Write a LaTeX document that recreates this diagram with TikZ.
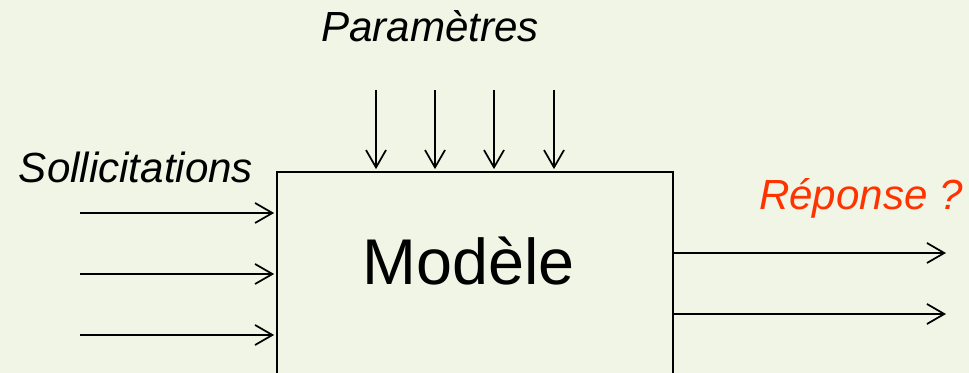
\documentclass[tikz,border=0pt]{standalone}
\usepackage{fontspec}
\setmainfont{Liberation Sans}
\usetikzlibrary{arrows.meta}
\definecolor{fond}{RGB}{241,245,230}
\definecolor{rouge}{RGB}{255,51,0}
\tikzset{
	fleche/.style={-{Straight Barb[length=13pt,width=15pt,line width=1.3pt]},line width=1.3pt,shorten >=1.5pt},
	etiquette/.style={anchor=base,inner sep=0pt,font=\fontsize{31.6}{38}\selectfont\itshape}
}
\begin{document}
\begin{tikzpicture}[x=0.75pt,y=-0.75pt]
			\fill[fond] (0,0) rectangle (969,373);
			\useasboundingbox (0,0) rectangle (969,373);
			
			\node (modele) [draw,line width=1.3pt,minimum width=297pt,minimum height=201pt,inner sep=0pt] at (475,306) {};
			\node (titre) [anchor=base,inner sep=0pt,font=\fontsize{48.5}{58}\selectfont] at (468.5,285) {Modèle};
			
			\node (param) [etiquette] at (430,42) {Paramètres};
			\coordinate (P1) at (376,90);
			\coordinate (P2) at (435,90);
			\coordinate (P3) at (494,90);
			\coordinate (P4) at (554,90);
			\draw[fleche] (P1)--(P1 |- modele.north);
			\draw[fleche] (P2)--(P2 |- modele.north);
			\draw[fleche] (P3)--(P3 |- modele.north);
			\draw[fleche] (P4)--(P4 |- modele.north);
			
			\node (solli) [etiquette] at (136,183) {Sollicitations};
			\coordinate (S1) at (80,213);
			\coordinate (S2) at (80,274);
			\coordinate (S3) at (80,335);
			\draw[fleche] (S1)--(S1 -| modele.west);
			\draw[fleche] (S2)--(S2 -| modele.west);
			\draw[fleche] (S3)--(S3 -| modele.west);
			
			\node (reponse) [etiquette,text=rouge] at (861,210) {Réponse ?};
			\coordinate (R1) at (946,253);
			\coordinate (R2) at (946,314);
			\draw[fleche,shorten >=0pt] (modele.east |- R1)--(R1);
			\draw[fleche,shorten >=0pt] (modele.east |- R2)--(R2);
		\end{tikzpicture}
\end{document}
